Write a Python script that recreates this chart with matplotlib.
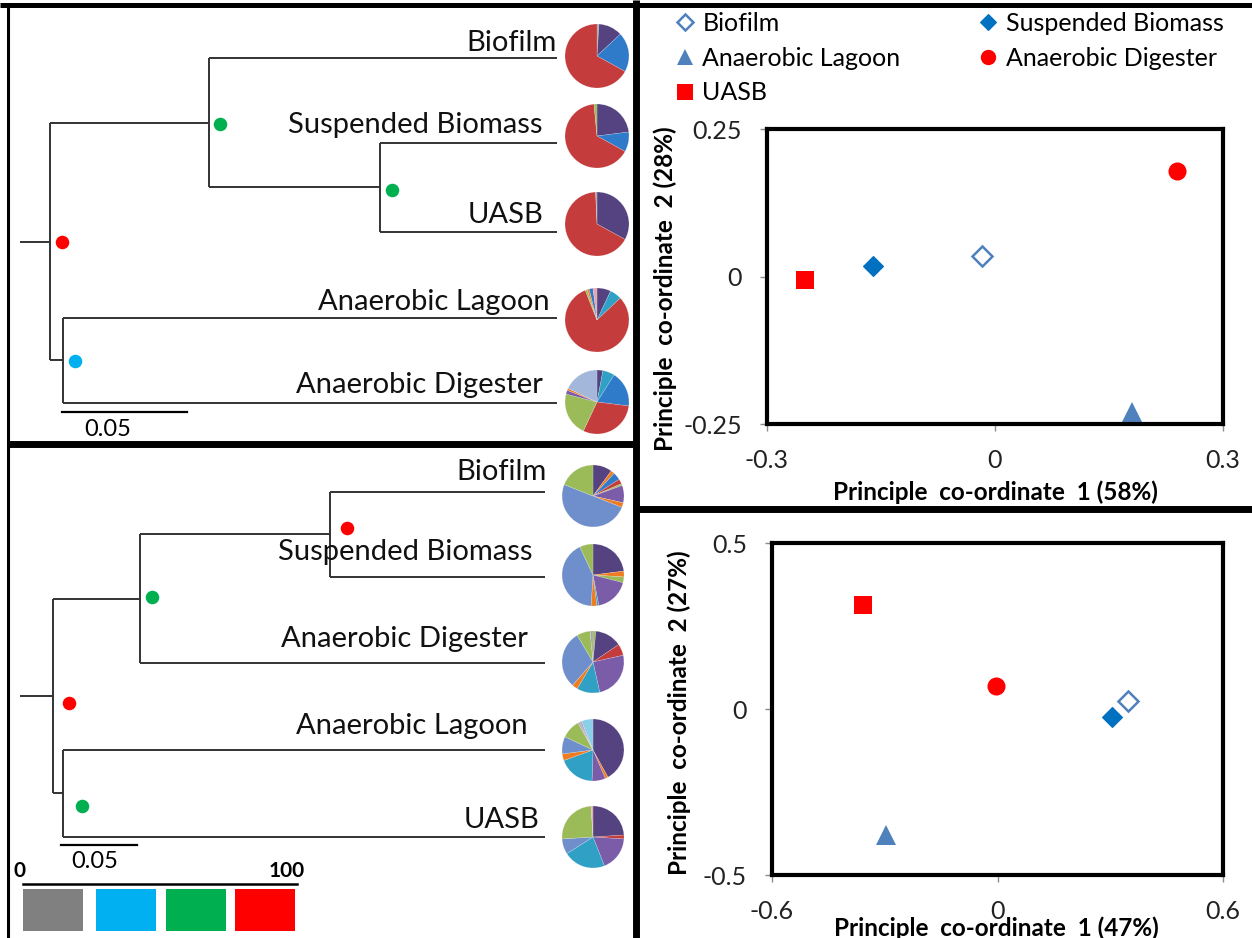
import numpy as np
import matplotlib.pyplot as plt
from matplotlib.lines import Line2D

plt.rcParams['font.family'] = ['Lato', 'DejaVu Sans']

W, H = 1252, 938

# ---- ordination data -------------------------------------------------------
samples = ['Biofilm', 'Suspended Biomass', 'Anaerobic Lagoon', 'Anaerobic Digester', 'UASB']

# first data set (top right)
pco_a_x = [-0.017, -0.160, 0.180, 0.239, -0.250]
pco_a_y = [0.035, 0.017, -0.229, 0.179, -0.006]
# second data set (bottom right)
pco_b_x = [0.346, 0.305, -0.296, -0.005, -0.358]
pco_b_y = [0.025, -0.025, -0.379, 0.068, 0.314]

# ---- dendrograms -------------------------------------------------------------
# internal node: (name, height, support class, children), leaves are strings
tree_a = ('r', 0.0, 3, [('a', 0.0636, 2, ['Biofilm', ('b', 0.1320, 2, ['Suspended Biomass', 'UASB'])]),
                        ('c', 0.0052, 1, ['Anaerobic Lagoon', 'Anaerobic Digester'])])
tree_a_tip = 0.2028

tree_b = ('r', 0.0, 3, [('a', 0.0572, 2, [('b', 0.1822, 3, ['Biofilm', 'Suspended Biomass']), 'Anaerobic Digester']),
                        ('c', 0.0066, 2, ['Anaerobic Lagoon', 'UASB'])])
tree_b_tip = 0.3237

# support classes 0..3 on the 0-100 bar
support_colors = ['#808080', '#00B0F0', '#00B050', '#FF0000']

# ---- community composition pies ------------------------------------------
palette = {'red': '#C43C3B', 'dpurple': '#554280', 'purple': '#7A5CA8', 'blue': '#2F7AC9',
           'slate': '#6E8FCB', 'ltslate': '#A2B7DA', 'green': '#9BBB59', 'teal': '#30A0C4',
           'orange': '#EE7D22', 'ltblue': '#8BD0E8', 'pink': '#E8A3AC', 'gray': '#A6A6A6',
           'lavender': '#B9A3D3'}

comp_a = {
    'Biofilm': (['gray', 'dpurple', 'blue', 'red'], [1, 12, 20, 67]),
    'Suspended Biomass': (['dpurple', 'blue', 'red', 'green'], [23, 10, 65.5, 1.5]),
    'UASB': (['dpurple', 'red', 'gray'], [33, 66.3, 0.7]),
    'Anaerobic Lagoon': (['dpurple', 'teal', 'red', 'green', 'orange', 'blue', 'pink'], [7, 6, 81, 1, 1, 2, 2]),
    'Anaerobic Digester': (['dpurple', 'teal', 'blue', 'red', 'green', 'purple', 'orange', 'ltslate'],
                           [3, 6, 18, 30, 22, 2, 1, 18]),
}
comp_b = {
    'Biofilm': (['dpurple', 'orange', 'blue', 'red', 'green', 'purple', 'orange', 'slate', 'green'],
                [10, 2, 4, 2.5, 1, 9, 2.5, 50, 19]),
    'Suspended Biomass': (['dpurple', 'orange', 'green', 'purple', 'teal', 'orange', 'slate', 'green'],
                          [23, 3, 3, 18, 1, 3, 42, 7]),
    'Anaerobic Digester': (['green', 'dpurple', 'red', 'purple', 'teal', 'orange', 'slate', 'green', 'gray'],
                           [1.5, 14, 6, 25, 12, 3, 30, 7, 1.5]),
    'Anaerobic Lagoon': (['dpurple', 'orange', 'purple', 'teal', 'orange', 'slate', 'green', 'lavender', 'gray', 'ltblue'],
                         [42, 1.5, 7, 19, 3.5, 9, 10, 1, 1, 6]),
    'UASB': (['dpurple', 'red', 'purple', 'teal', 'slate', 'green', 'pink'], [24, 2, 18, 22, 8, 25, 1]),
}

# ---- page layout (pixels) ----------------------------------------------------
layout_a = dict(x0=50, ppu=2500, stub=20, tip_pie_x=597, pie_r=32,
                leaf_y={'Biofilm': 58, 'Suspended Biomass': 143, 'UASB': 232,
                        'Anaerobic Lagoon': 318, 'Anaerobic Digester': 403},
                label={'Biofilm': (557, 43), 'Suspended Biomass': (542, 125), 'UASB': (544, 215),
                       'Anaerobic Lagoon': (550, 302), 'Anaerobic Digester': (543, 385)},
                pie_y={'Biofilm': 56, 'Suspended Biomass': 136, 'UASB': 224,
                       'Anaerobic Lagoon': 320, 'Anaerobic Digester': 402},
                dots={'r': (12, 0), 'a': (11, 1), 'b': (12, 3), 'c': (12, 1)},
                bar=(62, 412), bar_label=(108, 430))
layout_b = dict(x0=53, ppu=1520, stub=20, tip_pie_x=593, pie_r=31,
                leaf_y={'Biofilm': 492, 'Suspended Biomass': 577, 'Anaerobic Digester': 663,
                        'Anaerobic Lagoon': 750, 'UASB': 837},
                label={'Biofilm': (547, 472), 'Suspended Biomass': (533, 552), 'Anaerobic Digester': (528, 639),
                       'Anaerobic Lagoon': (528, 726), 'UASB': (540, 820)},
                pie_y={'Biofilm': 496, 'Suspended Biomass': 575, 'Anaerobic Digester': 662,
                       'Anaerobic Lagoon': 750, 'UASB': 837},
                dots={'r': (16, 7), 'a': (12, -2), 'b': (17, -6), 'c': (19, 13)},
                bar=(61, 845), bar_label=(95, 862))


def rect(l, t, r, b):
    return [l / W, 1 - b / H, (r - l) / W, (b - t) / H]


def draw_tree(ax, tree, tip, lay):
    line_kw = dict(color='#333333', lw=1.4, solid_capstyle='butt')

    def x_of(h):
        return lay['x0'] + h * lay['ppu']

    def walk(node):
        if isinstance(node, str):
            return x_of(tip), lay['leaf_y'][node]
        name, h, sup, kids = node
        x = x_of(h)
        pts = [walk(k) for k in kids]
        ys = [p[1] for p in pts]
        ax.plot([x, x], [min(ys), max(ys)], **line_kw)
        for cx, cy in pts:
            ax.plot([x, cx], [cy, cy], **line_kw)
        y = np.mean(ys)
        dx, dy = lay['dots'][name]
        ax.scatter(x + dx, y + dy, s=95, color=support_colors[sup], zorder=5, linewidths=0)
        return x, y

    rx, ry = walk(tree)
    ax.plot([lay['stub'], rx], [ry, ry], **line_kw)

    for name, (xr, yc) in lay['label'].items():
        ax.text(xr, yc, name, ha='right', va='center', fontsize=21, color='#111111')

    # scale bar, 0.05 distance units
    bx, by = lay['bar']
    ax.plot([bx, bx + 0.05 * lay['ppu']], [by, by], color='black', lw=1.6)
    ax.text(*lay['bar_label'], '0.05', ha='center', va='center', fontsize=17)


def draw_pies(fig, comp, lay):
    r = lay['pie_r']
    cx = lay['tip_pie_x']
    for name, (keys, vals) in comp.items():
        cy = lay['pie_y'][name]
        pax = fig.add_axes(rect(cx - 1.25 * r, cy - 1.25 * r, cx + 1.25 * r, cy + 1.25 * r))
        pax.pie(vals, colors=[palette[k] for k in keys], startangle=90, counterclock=False,
                wedgeprops=dict(linewidth=0.3, edgecolor=(1, 1, 1, 0.4)))
        pax.set_xlim(-1.25, 1.25)
        pax.set_ylim(-1.25, 1.25)
        pax.axis('off')


marker_styles = {
    'Biofilm': dict(marker='D', ms=10, mfc='white', mec='#4F81BD', mew=1.8),
    'Suspended Biomass': dict(marker='D', ms=10, mfc='#0070C0', mec='#0070C0', mew=0.8),
    'Anaerobic Lagoon': dict(marker='^', ms=14, mfc='#4F81BD', mec='#4F81BD', mew=0),
    'Anaerobic Digester': dict(marker='o', ms=13, mfc='#FF0000', mec='#FF0000', mew=0),
    'UASB': dict(marker='s', ms=13, mfc='#FF0000', mec='#FF0000', mew=0),
}


def draw_pco(fig, box, xs, ys, lim_x, lim_y, xlabel, ylabel, xl_pos, yl_pos):
    ax = fig.add_axes(rect(*box))
    for s, x, y in zip(samples, xs, ys):
        ax.plot([x], [y], ls='none', **marker_styles[s])
    ax.set_xlim(-lim_x, lim_x)
    ax.set_ylim(-lim_y, lim_y)
    ax.set_xticks([-lim_x, 0, lim_x], [f'{-lim_x:g}', '0', f'{lim_x:g}'])
    ax.set_yticks([-lim_y, 0, lim_y], [f'{-lim_y:g}', '0', f'{lim_y:g}'])
    ax.tick_params(direction='out', length=5, width=1, color='#8c8c8c', labelsize=18,
                   labelcolor='#222222', pad=13)
    for sp in ax.spines.values():
        sp.set_linewidth(3.0)
        sp.set_color('black')
    ax.set_xlabel(xlabel, fontsize=17.5, fontweight='bold')
    ax.set_ylabel(ylabel, fontsize=17.5, fontweight='bold')
    ax.xaxis.set_label_coords(*xl_pos)
    ax.yaxis.set_label_coords(*yl_pos)
    return ax


fig = plt.figure(figsize=(W / 100, H / 100), dpi=100)
bg = fig.add_axes([0, 0, 1, 1])
bg.set_xlim(0, W)
bg.set_ylim(H, 0)
bg.axis('off')

# panel frames
frame_kw = dict(color='black', solid_capstyle='butt')
bg.plot([0, W], [5, 5], lw=3.6, **frame_kw)
bg.plot([8, 8], [5, H], lw=2.2, **frame_kw)
bg.plot([636, 636], [0, H], lw=5.0, **frame_kw)
bg.plot([8, 636], [444, 444], lw=5.0, **frame_kw)
bg.plot([636, W], [509, 509], lw=5.0, **frame_kw)

draw_tree(bg, tree_a, tree_a_tip, layout_a)
draw_tree(bg, tree_b, tree_b_tip, layout_b)

# support colour key
bg.text(20, 871, '0', ha='center', va='center', fontsize=15, fontweight='bold')
bg.text(287, 871, '100', ha='center', va='center', fontsize=15, fontweight='bold')
bg.plot([23, 297], [884, 884], color='black', lw=1.8)
for i, c in enumerate(support_colors):
    x0 = [23, 96, 166, 235][i]
    bg.add_patch(plt.Rectangle((x0, 889), 60, 42, color=c, lw=0))

draw_pies(fig, comp_a, layout_a)
draw_pies(fig, comp_b, layout_b)

ax1 = draw_pco(fig, (767, 129, 1223, 424), pco_a_x, pco_a_y, 0.3, 0.25,
               'Principle  co-ordinate  1 (58%)', 'Principle  co-ordinate  2 (28%)',
               (0.5, -0.19), (-0.198, 0.46))
ax2 = draw_pco(fig, (772, 543, 1223, 875), pco_b_x, pco_b_y, 0.6, 0.5,
               'Principle  co-ordinate  1 (47%)', 'Principle  co-ordinate  2 (27%)',
               (0.497, -0.125), (-0.179, 0.49))

# legend: handles ordered so the two columns read row by row
order = ['Biofilm', 'Anaerobic Lagoon', 'UASB', 'Suspended Biomass', 'Anaerobic Digester']
handles = [Line2D([], [], ls='none', **marker_styles[s]) for s in order]
fig.legend(handles, order, loc='upper left', bbox_to_anchor=(675 / W, 1 - 12 / H), ncol=2,
           frameon=False, fontsize=18, markerscale=0.85, handlelength=0.8, handletextpad=0.3,
           columnspacing=3.1, labelspacing=0.47, borderaxespad=0, borderpad=0)

fig.savefig('out.png', dpi=100)
